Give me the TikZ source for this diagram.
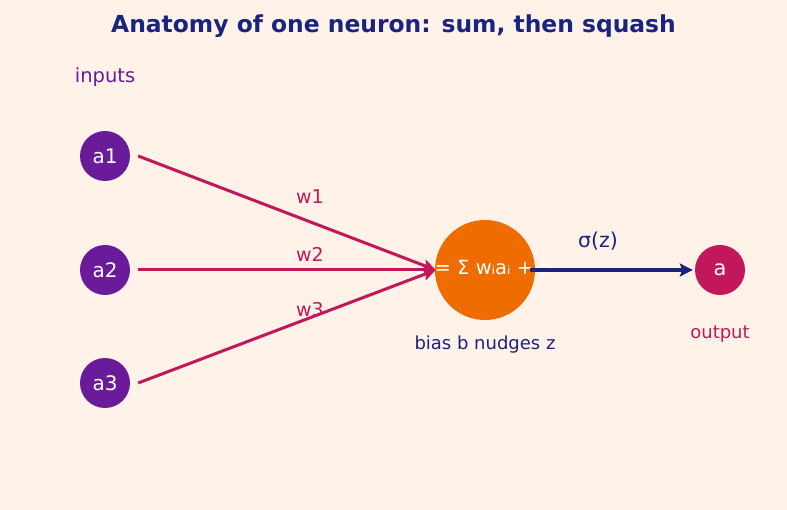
\documentclass[tikz,border=0pt]{standalone}
\usepackage{fontspec}
\setmainfont{DejaVu Sans}
\usepackage{tikz}
\usetikzlibrary{arrows.meta,calc,positioning}

\definecolor{bgpeach}{HTML}{FFF2E8}
\definecolor{inpurple}{HTML}{6A1B9A}
\definecolor{wcrimson}{HTML}{C2185B}
\definecolor{sumorange}{HTML}{EF6C00}
\definecolor{navy}{HTML}{1A237E}

\newcommand{\fs}[1]{\fontsize{#1}{#1}\selectfont}

\begin{document}
\begin{tikzpicture}[x=1pt,y=-1pt,
  unit/.style={circle,minimum size=50pt,inner sep=0pt,text=white,font=\fs{20}},
  inunit/.style={unit,fill=inpurple},
  weight/.style={draw=wcrimson,line width=3pt,-{Stealth[length=13pt,width=12pt,inset=2.5pt]}},
  wlabel/.style={text=wcrimson,font=\fs{19}}]
\fill[bgpeach] (0,0) rectangle (787,510);
\useasboundingbox (0,0) rectangle (787,510);
\node[text=navy,font=\bfseries\fs{23.4}] (title) at (393.5,26) {Anatomy of one neuron: sum, then squash};
\node[text=inpurple,font=\fs{19.5}] (inputs) at (105,77) {inputs};
% input layer
\node[inunit] (a1) at (105,156) {a1};
\node[inunit] (a2) at (105,270) {a2};
\node[inunit] (a3) at (105,383) {a3};
% the neuron
\node[circle,fill=sumorange,minimum size=100pt,inner sep=0pt] (sum) at (485,270) {};
\node[text=white,font=\fs{19.5}] (zeq) at (485,267) {z = Σ wᵢaᵢ + b};
\node[text=navy,font=\fs{18}] (bias) at (485,345) {bias b nudges z};
% output
\node[unit,fill=wcrimson,font=\fs{21}] (out) at (720,270) {a};
\node[text=wcrimson,font=\fs{18}] (outlbl) at (720,334) {output};
\draw[weight] ([xshift=8pt]a1.east) -- ([xshift=1pt]sum.west);
\draw[weight] ([xshift=8pt]a2.east) -- ([xshift=1pt]sum.west);
\draw[weight] ([xshift=8pt]a3.east) -- ([xshift=1pt]sum.west);
\node[wlabel] (w1) at (310,197) {w1};
\node[wlabel] (w2) at (310,254) {w2};
\node[wlabel] (w3) at (310,310) {w3};
\draw[navy,line width=3.8pt,-{Stealth[length=13pt,width=13pt,inset=2.5pt]}] ([xshift=-5pt]sum.east) -- ([xshift=-2pt]out.west);
\node[text=navy,font=\fs{20.5}] (sigma) at (598,241) {σ(z)};
\end{tikzpicture}
\end{document}
